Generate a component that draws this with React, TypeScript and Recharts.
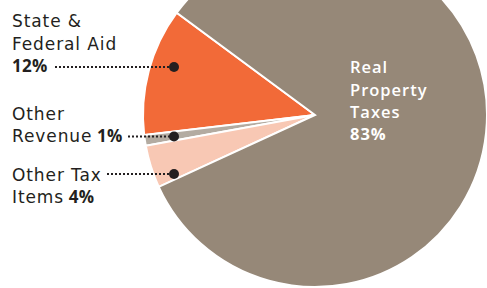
import { PieChart, Pie, Cell } from "recharts";

const categories = ["State & Federal Aid", "Other Revenue", "Other Tax Items", "Real Property Taxes"];
const shares = [12, 1, 4, 83];
const sliceColors = ["#f26a38", "#b3aba1", "#f8c8b4", "#968878"];

// label text, split into lines; the percentage is appended in bold to the last line
const labelLines = [["State &", "Federal Aid", ""], ["Other", "Revenue"], ["Other Tax", "Items"], ["Real", "Property", "Taxes", ""]];
const labelX = [12, 12, 12, 350];
const labelTop = [27.3, 120, 180.5, 73.3];
// leader lines: start x, y, and the dot x
const leaderStart = [55, 128, 107, null];
const leaderY = [67, 136.5, 174, null];
const dotX = 174;

const data = categories.map((name, i) => ({ name, value: shares[i] }));

const FONT = "'DejaVu Sans', sans-serif";
const BOLD_FONT = "'Open Sans', sans-serif";
const LINE = 22.3;

function renderLabel(props: any) {
  const i = props.index;
  const lines = labelLines[i];
  const inside = i === 3;
  const color = inside ? "#ffffff" : "#231f20";
  return (
    <g key={`lbl-${i}`}>
      {lines.map((ln, k) => {
        const last = k === lines.length - 1;
        return (
          <text
            key={k}
            x={labelX[i]}
            y={labelTop[i] + k * LINE}
            fill={color}
            fontFamily={inside ? BOLD_FONT : FONT}
            fontSize={inside ? 16.5 : 17}
            fontWeight={inside ? 600 : 400}
            letterSpacing={inside ? 1 : 0.9}
          >
            {ln}
            {last && (
              <tspan fontFamily={BOLD_FONT} fontWeight={700} letterSpacing={inside ? 1 : 0.3}>
                {(ln ? " " : "") + shares[i] + "%"}
              </tspan>
            )}
          </text>
        );
      })}
      {leaderStart[i] != null && (
        <>
          <line
            x1={leaderStart[i] as number}
            x2={dotX}
            y1={leaderY[i] as number}
            y2={leaderY[i] as number}
            stroke="#231f20"
            strokeWidth={2}
            strokeDasharray="2 2"
          />
          <circle cx={dotX} cy={leaderY[i] as number} r={5} fill="#231f20" />
        </>
      )}
    </g>
  );
}

export default function App() {
  return (
    <div style={{ position: "absolute", left: 0, top: 0, width: 487, height: 288, background: "#fff" }}>
      <PieChart width={487} height={288} margin={{ top: 0, right: 0, bottom: 0, left: 0 }}>
        <Pie
          data={data}
          dataKey="value"
          nameKey="name"
          cx={315}
          cy={115}
          outerRadius={172}
          startAngle={143.5}
          endAngle={503.5}
          stroke="#ffffff"
          strokeWidth={2}
          label={renderLabel}
          labelLine={false}
          isAnimationActive={false}
        >
          {data.map((d, i) => (
            <Cell key={d.name} fill={sliceColors[i]} />
          ))}
        </Pie>
      </PieChart>
    </div>
  );
}
